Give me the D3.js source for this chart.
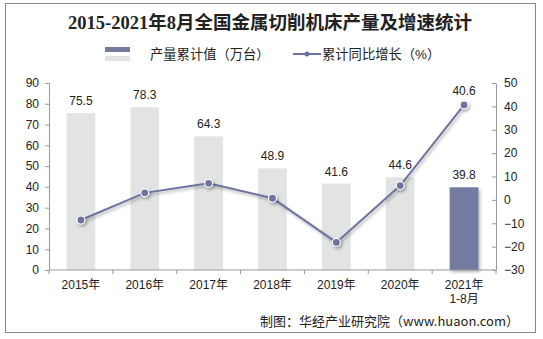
<!DOCTYPE html>
<html>
<head>
<meta charset="utf-8">
<script src="https://cdn.jsdelivr.net/npm/d3@7"></script>
<style>
  body { margin: 0; background: #fff; }
  svg text { font-family: "Liberation Sans", Arial, "Noto Sans CJK SC", sans-serif; fill: #222; }
</style>
</head>
<body>
<svg id="plate" width="543" height="339"></svg>
<script>
// data
var years = ['2015年', '2016年', '2017年', '2018年', '2019年', '2020年', '2021年\n1-8月'];
var output = [75.5, 78.3, 64.3, 48.9, 41.6, 44.6, 39.8];
var growth = [-8.6, 3.0, 7.1, 0.7, -18.2, 6.1, 40.6];
var leftTicks = [0, 10, 20, 30, 40, 50, 60, 70, 80, 90];
var rightTicks = [-30, -20, -10, 0, 10, 20, 30, 40, 50];

var svg = d3.select('#plate');
var margin = {top: 83, right: 47, bottom: 69, left: 49};
var width = 543 - margin.left - margin.right;
var height = 339 - margin.top - margin.bottom;

var defs = svg.append('defs');
var f = defs.append('filter').attr('id', 'shadow').attr('x', '-50%').attr('y', '-50%').attr('width', '200%').attr('height', '200%');
f.append('feDropShadow').attr('dx', 1.5).attr('dy', 2).attr('stdDeviation', 1.5).attr('flood-color', '#000').attr('flood-opacity', 0.3);

// frame
svg.append('rect').attr('x', 5.5).attr('y', 3.5).attr('width', 530).attr('height', 329)
    .attr('fill', 'none').attr('stroke', '#888').attr('stroke-width', 1);

// title
svg.append('text')
    .attr('x', 270).attr('y', 29)
    .attr('text-anchor', 'middle')
    .style('font-family', '"Liberation Serif", "Noto Sans CJK SC", serif')
    .style('font-weight', 'bold').style('font-size', '18.5px')
    .text('2015-2021年8月全国金属切削机床产量及增速统计');

// legend
var lg = svg.append('g');
lg.append('rect').attr('x', 105).attr('y', 47).attr('width', 25).attr('height', 5).attr('fill', '#737ba0');
lg.append('rect').attr('x', 105).attr('y', 56).attr('width', 25).attr('height', 5).attr('fill', '#e2e3e3');
lg.append('text').attr('x', 150).attr('y', 59).style('font-size', '13.3px').text('产量累计值（万台）');
lg.append('line').attr('x1', 293).attr('x2', 321).attr('y1', 54).attr('y2', 54).attr('stroke', '#6c73a0').attr('stroke-width', 2);
lg.append('circle').attr('cx', 307).attr('cy', 54).attr('r', 2.5).attr('fill', '#6c73a0');
lg.append('text').attr('x', 322).attr('y', 59).style('font-size', '13.3px').text('累计同比增长（%）');

var g = svg.append('g').attr('transform', 'translate(' + margin.left + ',' + margin.top + ')');

// scales
var x = d3.scaleBand().domain(years).range([0, width]).paddingInner(0.55).paddingOuter(0.275);
var y0 = d3.scaleLinear().domain([0, 90]).range([height, 0]);
var y1 = d3.scaleLinear().domain([-30, 50]).range([height, 0]);

// bars
g.selectAll('.bar').data(output).enter().append('rect')
    .attr('x', function(d, i) { return x(years[i]); })
    .attr('y', function(d) { return y0(d); })
    .attr('width', x.bandwidth())
    .attr('height', function(d) { return height - y0(d); })
    .attr('fill', function(d, i) { return i === years.length - 1 ? '#737ba0' : '#e2e3e3'; })
    .attr('filter', function(d, i) { return i === years.length - 1 ? 'url(#shadow)' : null; });

g.selectAll('.barlabel').data(output).enter().append('text')
    .attr('x', function(d, i) { return x(years[i]) + x.bandwidth() / 2; })
    .attr('y', function(d) { return y0(d) - 8; })
    .attr('text-anchor', 'middle')
    .style('font-size', '12px')
    .text(function(d) { return d.toFixed(1); });

// axes
var axL = g.append('g').call(d3.axisLeft(y0).tickValues(leftTicks).tickSize(4).tickPadding(6));
var axR = g.append('g').attr('transform', 'translate(' + width + ',0)')
    .call(d3.axisRight(y1).tickValues(rightTicks).tickSizeInner(-4).tickSizeOuter(0).tickPadding(8));
[axL, axR].forEach(function(a) {
    a.select('.domain').attr('stroke', '#999');
    a.selectAll('.tick line').attr('stroke', '#999');
    a.selectAll('.tick text').style('font-size', '12px').attr('fill', '#222');
});

// x axis with ticks between categories
var xa = g.append('g').attr('transform', 'translate(0,' + height + ')');
xa.append('line').attr('x1', 0).attr('x2', width).attr('stroke', '#999');
xa.selectAll('.xt').data(d3.range(years.length + 1)).enter().append('line')
    .attr('x1', function(i) { return i * width / years.length; })
    .attr('x2', function(i) { return i * width / years.length; })
    .attr('y1', 0).attr('y2', 4).attr('stroke', '#999');
xa.selectAll('.xl').data(years).enter().append('text')
    .attr('x', function(d) { return x(d) + x.bandwidth() / 2; })
    .attr('y', 19)
    .attr('text-anchor', 'middle')
    .style('font-size', '12px')
    .each(function(d) {
        var t = d3.select(this);
        d.split('\n').forEach(function(p, k) {
            t.append('tspan').attr('x', t.attr('x')).attr('dy', k === 0 ? 0 : 14).text(p);
        });
    });

// line
var line = d3.line()
    .x(function(d, i) { return x(years[i]) + x.bandwidth() / 2; })
    .y(function(d) { return y1(d); });
g.append('path').datum(growth)
    .attr('d', line)
    .attr('fill', 'none')
    .attr('stroke', '#6c73a0')
    .attr('stroke-width', 2)
    .attr('filter', 'url(#shadow)');
g.selectAll('.pt').data(growth).enter().append('circle')
    .attr('cx', function(d, i) { return x(years[i]) + x.bandwidth() / 2; })
    .attr('cy', function(d) { return y1(d); })
    .attr('r', 4)
    .attr('fill', '#6c73a0')
    .attr('stroke', '#fff')
    .attr('stroke-width', 1.2)
    .attr('filter', 'url(#shadow)');
// only the last point carries a label
g.append('text')
    .attr('x', x(years[6]) + x.bandwidth() / 2)
    .attr('y', y1(growth[6]) - 10)
    .attr('text-anchor', 'middle')
    .style('font-size', '12px')
    .text(growth[6].toFixed(1));

// source
svg.append('text')
    .attr('x', 519).attr('y', 326)
    .attr('text-anchor', 'end')
    .style('font-size', '13px')
    .style('font-family', '"Noto Sans CJK SC", sans-serif')
    .text('制图：华经产业研究院（www.huaon.com）');
</script>
</body>
</html>
